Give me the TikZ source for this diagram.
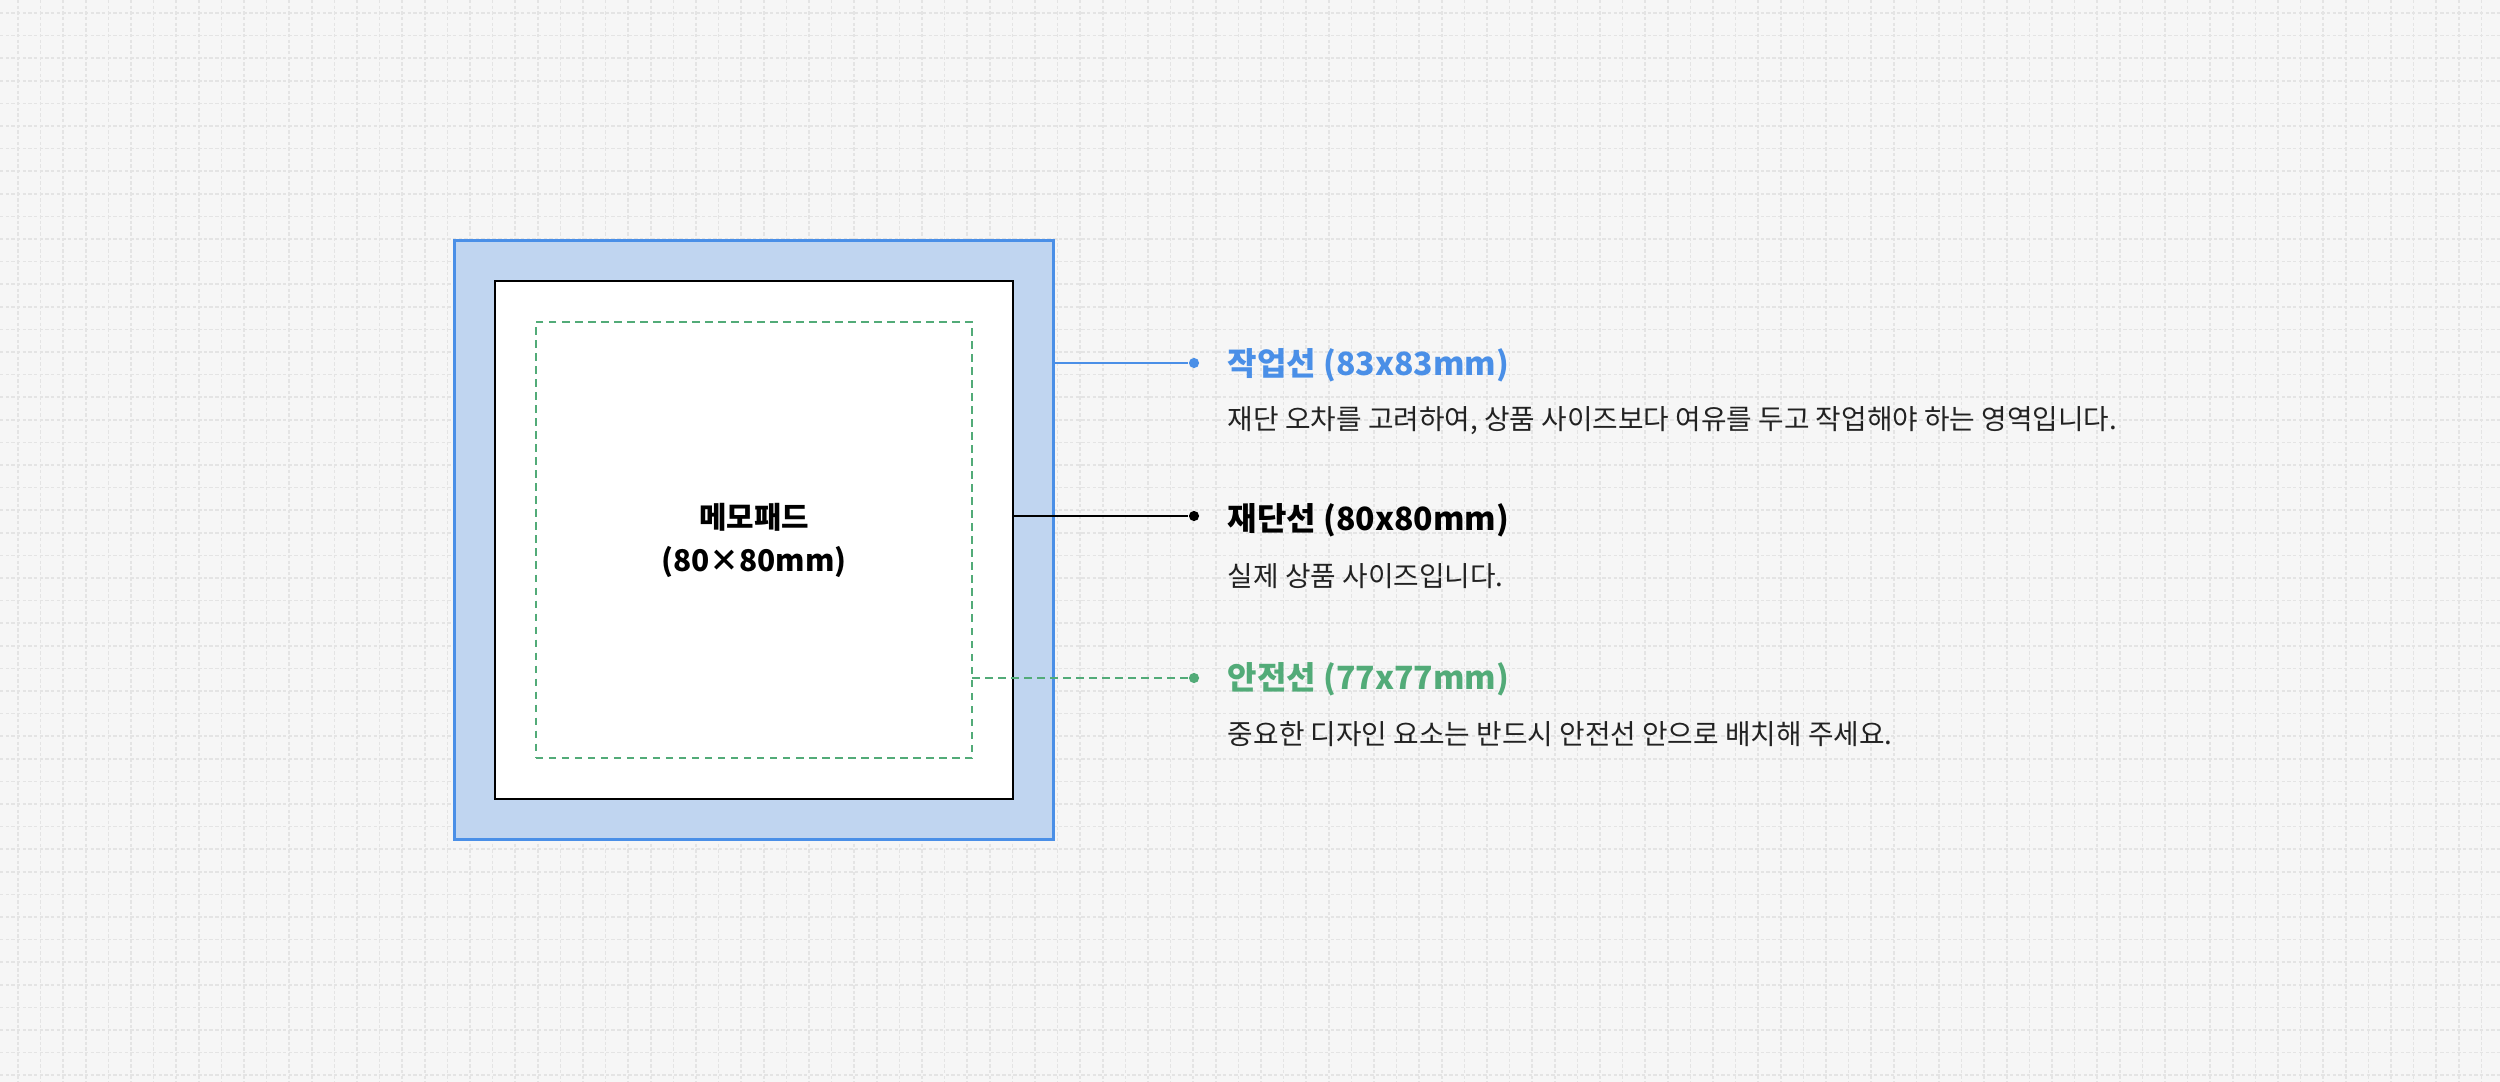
\documentclass[tikz,border=0pt]{standalone}
\usepackage{fontspec}
\setmainfont{Noto Sans CJK KR}
\usepackage{tikz}

\definecolor{workblue}{HTML}{4A8FE7}
\definecolor{bleedfill}{HTML}{C0D5F0}
\definecolor{safegreen}{HTML}{52AB78}
\definecolor{paper}{HTML}{F6F6F6}
\definecolor{gridgray}{HTML}{E4E4E4}
\definecolor{inkgray}{HTML}{222222}

\tikzset{
every picture/.style={
line width=0.5pt
}}

\begin{document}
\begin{tikzpicture}[x=0.01cm, y=-0.01cm,
gridline/.style = {gridgray, line width=0.43pt, dash pattern=on 0.97pt off 0.64pt},
square/.style = {rectangle, inner sep=0pt, outer sep=0pt},
dot/.style = {circle, fill, inner sep=0pt, minimum size=2.9pt},
title/.style = {anchor=west, inner sep=0pt, font=\fontsize{9.1}{11}\selectfont\bfseries},
note/.style = {anchor=west, inner sep=0pt, text=inkgray, font=\fontsize{7.9}{9.5}\selectfont}]

% paper and grid
\fill [paper] (0,0) rectangle (2500,1082);
\useasboundingbox (0,0) rectangle (2500,1082);
\foreach \i in {0,...,110}
  \draw [gridline] ({18+22.6*\i},0) -- ({18+22.6*\i},1082);
\foreach \j in {0,...,47}
  \draw [gridline] (0,{13+22.6*\j}) -- (2500,{13+22.6*\j});

% the three squares
\node (bleed) [square, draw=workblue, fill=bleedfill, line width=0.85pt, minimum size=5.98cm] at (754,540) {};
\node (trim) [square, draw=black, fill=white, line width=0.7pt, minimum size=5.18cm] at (754,540) {};
\node (safe) [square, draw=safegreen, line width=0.57pt, dash pattern=on 2.1pt off 1.6pt, minimum size=4.36cm] at (754,540) {};
\node (padname) [align=center, font=\fontsize{8.5}{12.2}\selectfont\bfseries] at (trim.center) {메모패드\\(80×80mm)};

% end points
\node (workdot) [dot, workblue] at (1194,363) {};
\node (cutdot) [dot, black] at (1194,516) {};
\node (safedot) [dot, safegreen] at (1194,678) {};

\draw [workblue] (bleed.east |- workdot) -- (workdot);
\draw [black] (trim.east |- cutdot) -- (cutdot);
\draw [safegreen, dash pattern=on 2.1pt off 1.6pt] (safe.east |- safedot) -- (safedot);

% labels
\node (worktitle) [title, workblue] at (1227,365) {작업선 (83x83mm)};
\node (worknote) [note] at (1227,421) {재단 오차를 고려하여, 상품 사이즈보다 여유를 두고 작업해야 하는 영역입니다.};
\node (cuttitle) [title, black] at (1227,520) {재단선 (80x80mm)};
\node (cutnote) [note] at (1227,576) {실제 상품 사이즈입니다.};
\node (safetitle) [title, safegreen] at (1227,679) {안전선 (77x77mm)};
\node (safenote) [note] at (1227,734) {중요한 디자인 요소는 반드시 안전선 안으로 배치해 주세요.};

\end{tikzpicture}
\end{document}
